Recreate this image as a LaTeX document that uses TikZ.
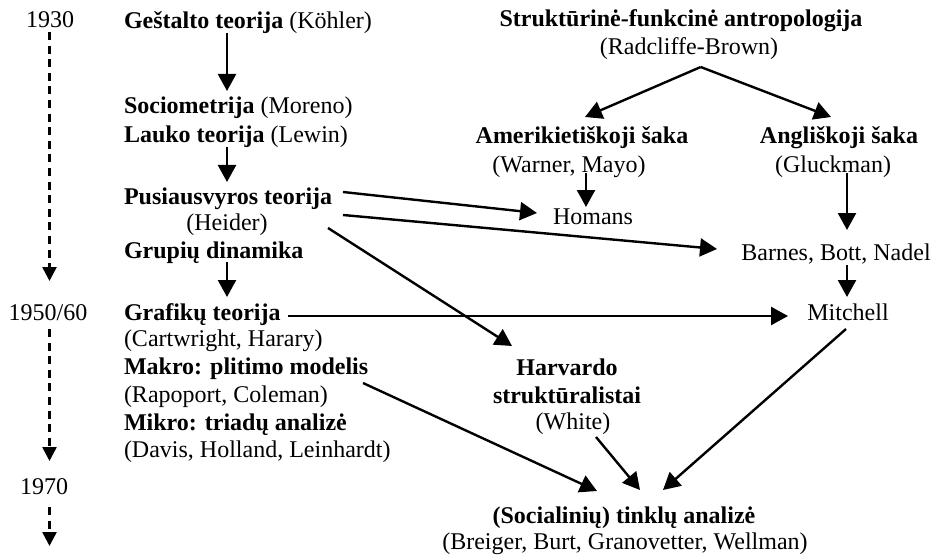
\documentclass[tikz,border=0pt]{standalone}
\usepackage{fontspec}
\setmainfont{Liberation Serif}
\usetikzlibrary{arrows.meta}
\begin{document}
\begin{tikzpicture}[x=0.5pt,y=-0.5pt,
  every node/.style={font=\fontsize{12}{14}\selectfont, inner sep=0pt, outer sep=0pt},
  lft/.style={anchor=base west},
  ctr/.style={anchor=base},
  arr/.style={-{Triangle[length=8.5pt,width=9pt]}, line width=1.2pt},
  tl/.style={-{Triangle[length=7pt,width=7pt]}, line width=1.3pt, dash pattern=on 4pt off 2.8pt}]
\useasboundingbox (0,0) rectangle (937,556);

% timeline
\node[ctr] (y1930) at (50,28) {1930};
\node[ctr] (y1950) at (48,320) {1950/60};
\node[ctr] (y1970) at (44,494) {1970};
\coordinate (tlend) at (49.5,546);

% left column
\node[lft] (gest)  at (124,29)  {\textbf{Geštalto teorija} (Köhler)};
\node[lft] (socio) at (124,113) {\textbf{Sociometrija} (Moreno)};
\node[lft] (lauko) at (124,142) {\textbf{Lauko teorija} (Lewin)};
\node[lft] (puse)  at (124,204) {\textbf{Pusiausvyros teorija}};
\node[ctr] (heider) at (227,230) {(Heider)};
\node[lft] (grup)  at (124,258) {\textbf{Grupių dinamika}};
\node[lft] (graf)  at (124,320) {\textbf{Grafikų teorija}};
\node[lft] (cart)  at (124,346) {(Cartwright, Harary)};
\node[lft] (makro) at (124,374) {\textbf{Makro: plitimo modelis}};
\node[lft] (rapo)  at (124,402) {(Rapoport, Coleman)};
\node[lft] (mikro) at (124,430) {\textbf{Mikro: triadų analizė}};
\node[lft] (davis) at (124,457) {(Davis, Holland, Leinhardt)};

% right part
\node[ctr] (strukt) at (681,27) {\textbf{Struktūrinė-funkcinė antropologija}};
\node[ctr] (radcl)  at (689,55) {(Radcliffe-Brown)};
\node[ctr] (amer)   at (582,143) {\textbf{Amerikietiškoji šaka}};
\node[ctr] (warner) at (569,172) {(Warner, Mayo)};
\node[ctr] (homans) at (593,224) {Homans};
\node[ctr] (angl)   at (839,143) {\textbf{Angliškoji šaka}};
\node[ctr] (gluck)  at (833,172) {(Gluckman)};
\node[ctr] (barnes) at (836,260) {Barnes, Bott, Nadel};
\node[ctr] (mitch)  at (848,320) {Mitchell};
\node[ctr] (harv1)  at (567,375) {\textbf{Harvardo}};
\node[ctr] (harv2)  at (567,403) {\textbf{struktūralistai}};
\node[ctr] (white)  at (573,429) {(White)};
\node[ctr] (soc)    at (624,523) {\textbf{(Socialinių) tinklų analizė}};
\node[ctr] (breiger) at (625,549) {(Breiger, Burt, Granovetter, Wellman)};

% timeline arrows
\draw[tl] ([shift={(-0.5,4)}]y1930.base) -- ([shift={(1.5,-39)}]y1950.base);
\draw[tl] ([shift={(1.5,9)}]y1950.base) -- ([shift={(5.5,-33)}]y1970.base);
\draw[tl] ([shift={(5.5,13)}]y1970.base) -- (tlend);

% left column arrows
\draw[arr] ([shift={(103,4)}]gest.base west) -- ([shift={(103,-22)}]socio.base west);
\draw[arr] ([shift={(103,5)}]lauko.base west) -- ([shift={(103,-22)}]puse.base west);
\draw[arr] ([shift={(103,4)}]grup.base west) -- ([shift={(103,-23)}]graf.base west);

% top right arrows
\draw[arr] ([shift={(11.7,12)}]radcl.base) -- ([shift={(3,-26)}]amer.base);
\draw[arr] ([shift={(11.7,12)}]radcl.base) -- ([shift={(-8,-26)}]angl.base);
\draw[arr] ([shift={(17,1)}]warner.base) -- ([shift={(-7,-17)}]homans.base);
\draw[arr] ([shift={(14,1)}]gluck.base) -- ([shift={(11,-30)}]barnes.base);
\draw[arr] ([shift={(11,5)}]barnes.base) -- ([shift={(-1,-23)}]mitch.base);

% cross arrows
\draw[arr] ([shift={(219,-12)}]puse.base west) -- ([shift={(-56,-11)}]homans.base);
\draw[arr] ([shift={(219,11)}]puse.base west) -- ([shift={(-119,-11)}]barnes.base);
\draw[arr] ([shift={(101,-2)}]heider.base) -- ([shift={(-55,-29)}]harv1.base);
\draw[arr] ([shift={(164,-4)}]graf.base west) -- ([shift={(-60,-4)}]mitch.base);

% to network analysis
\draw[arr] ([shift={(239,9)}]makro.base west) -- ([shift={(-27,-32)}]soc.base);
\draw[arr] ([shift={(23,8)}]white.base) -- ([shift={(16,-33)}]soc.base);
\draw[arr] ([shift={(-2,9)}]mitch.base) -- ([shift={(39,-33)}]soc.base);
\end{tikzpicture}
\end{document}
